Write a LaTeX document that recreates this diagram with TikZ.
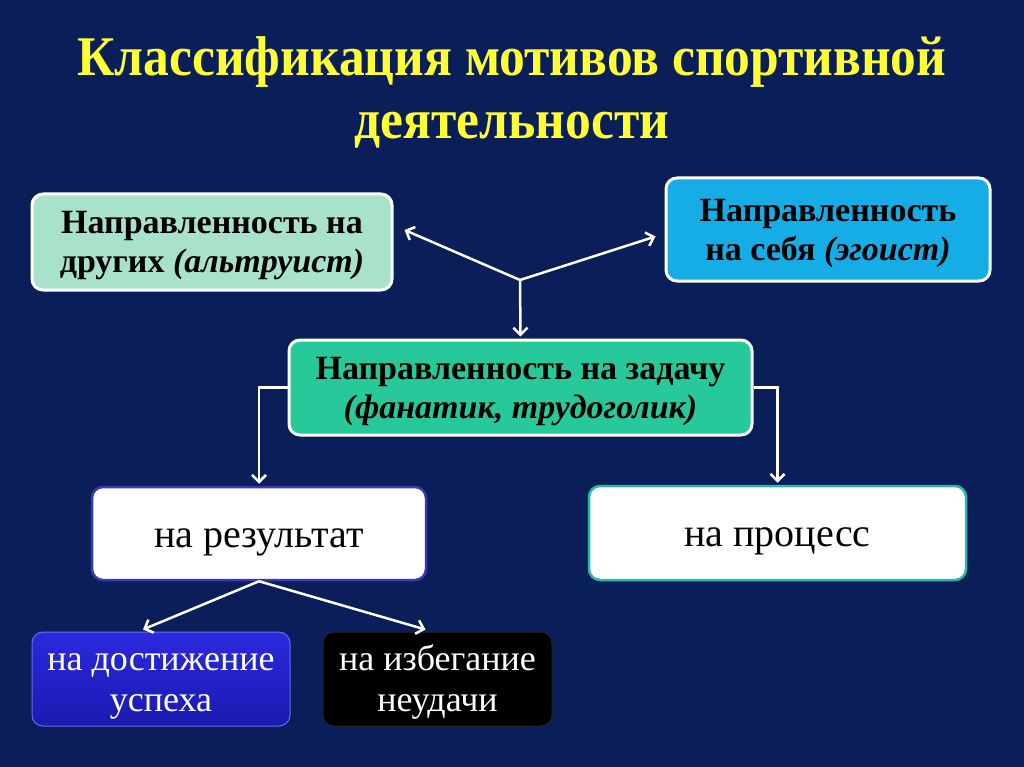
\documentclass[tikz,border=0pt]{standalone}
\usepackage{fontspec}
\setmainfont{Liberation Serif}
\newfontfamily\titlefont[FakeStretch=0.92]{Liberation Serif}
\usepackage{tikz}
\usetikzlibrary{positioning, shapes, arrows.meta, calc}

\definecolor{slidebg}{HTML}{0A1E5A}
\definecolor{titleyellow}{HTML}{FFFF33}
\definecolor{mintfill}{HTML}{A8E2CA}
\definecolor{skyfill}{HTML}{16ADE6}
\definecolor{tealfill}{HTML}{27C99B}
\definecolor{resultline}{HTML}{3A3AB8}
\definecolor{processline}{HTML}{2BB8A8}
\definecolor{successtop}{HTML}{2A2ADE}
\definecolor{successbot}{HTML}{1A1AB0}

% strut with the ascent and descent of a slide line
\newcommand\ppstrut{\rule[-0.216em]{0pt}{1.107em}}

\begin{document}
\begin{tikzpicture}[x=1pt, y=-1pt,
    motive/.style={draw=white, line width=3pt, rounded corners=11pt, align=center,
        inner sep=0pt, text=black, font=\fontsize{34}{39}\selectfont\bfseries},
    aim/.style={rounded corners=11pt, align=center, inner sep=0pt, line width=2.5pt,
        font=\fontsize{36}{38}\selectfont},
    arr/.style={draw=white, line width=2.5pt, -{Straight Barb[length=7pt, width=14pt, line width=2.5pt]}}]
        % Draw the background
        \fill[slidebg] (0,0) rectangle (1024,767);
        \useasboundingbox (0,0) rectangle (1024,767);

        % Draw the title
        \node[text=titleyellow, align=center, font=\fontsize{56}{63}\titlefont\bfseries] (title) at (512,92)
            {Классификация мотивов спортивной\\деятельности};

        % Draw the boxes
        \node[motive, fill=mintfill, minimum width=360, minimum height=96] (others) at (212,242)
            {\ppstrut Направленность на\\\ppstrut других \textit{(альтруист)}};
        \node[motive, fill=skyfill, minimum width=324, minimum height=103] (self) at (828,229.5)
            {\ppstrut Направленность\\\ppstrut на себя \textit{(эгоист)}};
        \node[motive, fill=tealfill, minimum width=463, minimum height=95] (task) at (520.5,387.5)
            {\ppstrut Направленность на задачу\\\ppstrut\textit{(фанатик, трудоголик)}};
        \node[aim, draw=resultline, fill=white, font=\fontsize{40}{44}\selectfont,
            minimum width=334, minimum height=93] (result) at (259,533.5)
            {\ppstrut на результат};
        \node[aim, draw=processline, fill=white, font=\fontsize{40}{44}\selectfont,
            minimum width=377, minimum height=94] (process) at (777.5,533)
            {\ppstrut на процесс};
        \node[aim, draw=successtop!70!white, top color=successtop, bottom color=successbot, text=white,
            line width=1pt, minimum width=258, minimum height=94] (success) at (161,679)
            {\ppstrut на достижение\\\ppstrut успеха};
        \node[aim, draw=black!85!white, fill=black, text=white, line width=1pt,
            minimum width=229, minimum height=94] (failure) at (437.5,679)
            {\ppstrut на избегание\\\ppstrut неудачи};

        % Draw the arrows
        \coordinate (fork) at (520,280);
        \draw[arr] (fork) -- ([xshift=11pt, yshift=12pt]others.east);
        \draw[arr] (fork) -- ([xshift=-9pt, yshift=-7pt]self.west);
        \draw[arr] (fork) -- ([yshift=2pt]task.north);
        \draw[arr] (task.west) -| ([yshift=2pt]result.north);
        \draw[arr] (task.east) -| ([yshift=2pt]process.north);
        \draw[arr] (result.south) -- ([xshift=-18pt, yshift=2pt]success.north);
        \draw[arr] (result.south) -- ([xshift=-12pt, yshift=2pt]failure.north);
    \end{tikzpicture}
\end{document}
